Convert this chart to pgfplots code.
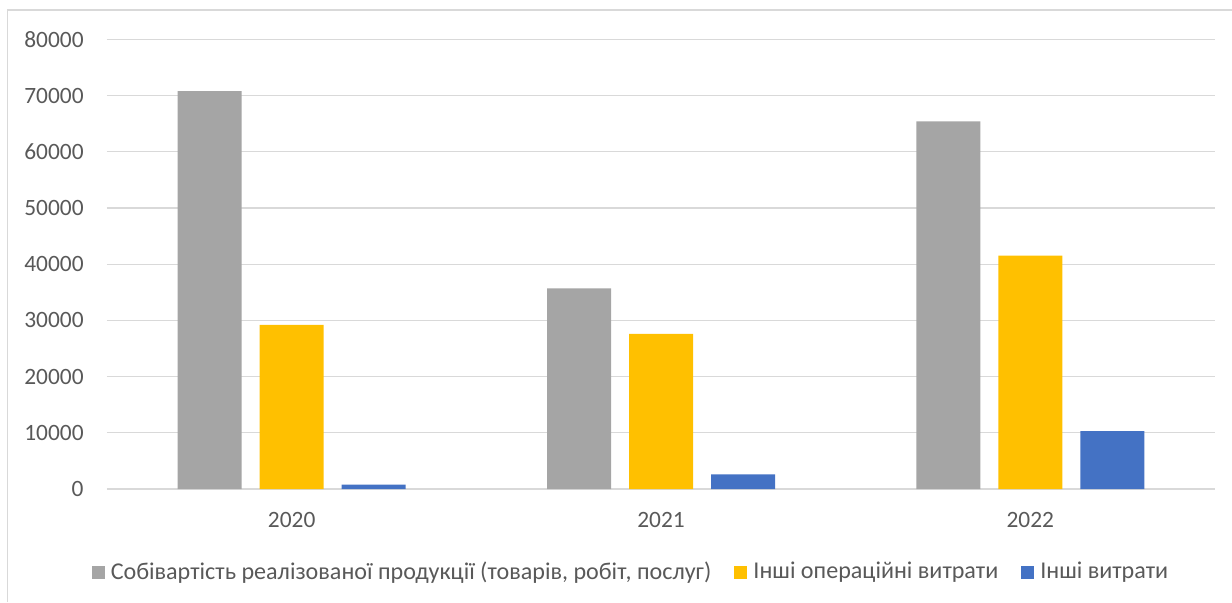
\documentclass[border=0pt]{standalone}
\usepackage{fontspec}
\setmainfont{Carlito}
\usepackage{pgfplots}
\pgfplotsset{compat=1.18}

\definecolor{gridgray}{HTML}{D9D9D9}
\definecolor{txtgray}{HTML}{595959}
\definecolor{barGray}{HTML}{A5A5A5}
\definecolor{barGold}{HTML}{FFC000}
\definecolor{barBlue}{HTML}{4472C4}

\newcommand\chartfont{\fontsize{11.7pt}{14pt}\selectfont}
\newcommand\legendfont{\fontsize{12.05pt}{14pt}\selectfont}

\begin{document}
\begin{tikzpicture}
\useasboundingbox (0pt,0pt) rectangle (616pt,301pt);
% chart area frame (top and left edges)
\draw[gridgray, line width=0.6pt] (3.6pt,0pt) -- (3.6pt,296pt) -- (616pt,296pt);
\begin{axis}[
  at={(53.5pt,56.5pt)}, anchor=south west,
  scale only axis, width=554pt, height=224.85pt,
  xmin=-0.5, xmax=2.5,
  ymin=0, ymax=80000,
  ytick={0,10000,...,80000},
  xtick={0,1,2},
  xticklabels={2020,2021,2022},
  scaled y ticks=false,
  /pgf/number format/assume math mode=true,
  yticklabel={\pgfmathprintnumber[fixed,1000 sep={}]{\tick}},
  axis line style={draw=none},
  tick style={draw=none},
  major tick length=0pt,
  ymajorgrids,
  grid style={gridgray, line width=0.65pt},
  ticklabel style={font=\chartfont, text=txtgray},
  yticklabel style={inner sep=0pt, xshift=-11.5pt},
  xticklabel style={inner sep=0pt, yshift=-11.5pt},
  ybar=9pt, bar width=32pt,
  legend columns=3,
  legend style={
    at={(0.472,-0.1846)}, anchor=center,
    draw=none, fill=none,
    font=\legendfont, text=txtgray,
    nodes={inner sep=0pt, anchor=west},
    /tikz/every odd column/.append style={column sep=3pt},
    /tikz/every even column/.append style={column sep=11.5pt},
  },
]
\addplot[fill=barGray, draw=none,
  legend image code/.code={\fill[barGray] (0pt,-3.25pt) rectangle (6.5pt,3.25pt);}]
  coordinates {(0,70800) (1,35700) (2,65400)};
\addlegendentry{Собівартість реалізованої продукції (товарів, робіт, послуг)}
\addplot[fill=barGold, draw=none,
  legend image code/.code={\fill[barGold] (0pt,-3.25pt) rectangle (6.5pt,3.25pt);}]
  coordinates {(0,29200) (1,27600) (2,41500)};
\addlegendentry{Інші операційні витрати}
\addplot[fill=barBlue, draw=none,
  legend image code/.code={\fill[barBlue] (0pt,-3.25pt) rectangle (6.5pt,3.25pt);}]
  coordinates {(0,800) (1,2600) (2,10300)};
\addlegendentry{Інші витрати}
\end{axis}
\end{tikzpicture}
\end{document}
